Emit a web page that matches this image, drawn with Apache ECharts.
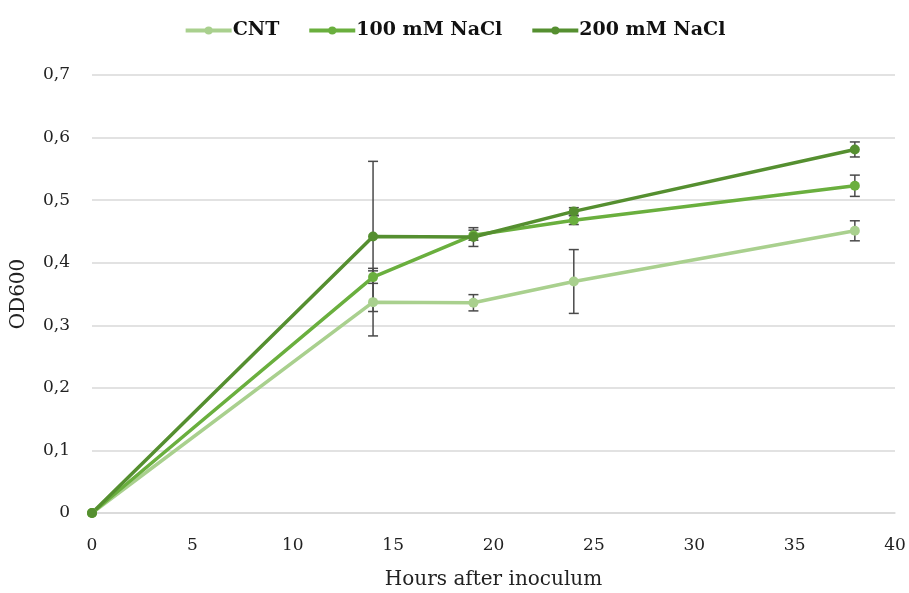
<!DOCTYPE html>
<html>
<head>
<meta charset="utf-8">
<script src="https://cdn.jsdelivr.net/npm/echarts@6/dist/echarts.min.js"></script>
<style>html,body{margin:0;padding:0;background:#fff;}#c{width:909px;height:593px;}</style>
</head>
<body>
<div id="c"></div>
<script>
var hours = [0, 14, 19, 24, 38];
var seriesNames = ['CNT', '100 mM NaCl', '200 mM NaCl'];
var cnt = [0, 0.337, 0.336, 0.370, 0.451];
var cntErr = [0, 0.054, 0.013, 0.051, 0.016];
var nacl100 = [0, 0.377, 0.444, 0.468, 0.523];
var nacl100Err = [0, 0.010, 0.008, 0.007, 0.017];
var nacl200 = [0, 0.442, 0.441, 0.482, 0.581];
var nacl200Err = [0, 0.120, 0.015, 0.006, 0.012];
var yTicks = ['0', '0,1', '0,2', '0,3', '0,4', '0,5', '0,6', '0,7'];

var colors = ['#a9d08e', '#6aaf3e', '#558f30'];
var font = '"DejaVu Serif", "Liberation Serif", serif';

function pairs(vals) { return hours.map(function (h, i) { return [h, vals[i]]; }); }
function errData(vals, errs) {
  return hours.map(function (h, i) { return [h, vals[i] - errs[i], vals[i] + errs[i]]; })
    .filter(function (d, i) { return errs[i] > 0; });
}
function errSeries(vals, errs) {
  return {
    type: 'custom',
    data: errData(vals, errs),
    z: 1,
    silent: true,
    renderItem: function (params, api) {
      var x = api.value(0);
      var lo = api.coord([x, api.value(1)]);
      var hi = api.coord([x, api.value(2)]);
      var w = 5;
      var st = { stroke: '#4a4a4a', lineWidth: 1.5 };
      return {
        type: 'group',
        children: [
          { type: 'line', shape: { x1: hi[0], y1: hi[1], x2: lo[0], y2: lo[1] }, style: st },
          { type: 'line', shape: { x1: hi[0] - w, y1: hi[1], x2: hi[0] + w, y2: hi[1] }, style: st },
          { type: 'line', shape: { x1: lo[0] - w, y1: lo[1], x2: lo[0] + w, y2: lo[1] }, style: st }
        ]
      };
    }
  };
}
function lineSeries(name, vals, color) {
  return {
    name: name, type: 'line', data: pairs(vals), z: 3,
    symbol: 'circle', symbolSize: 10,
    lineStyle: { width: 3.5, color: color },
    itemStyle: { color: color },
    emphasis: { disabled: true }
  };
}

var chart = echarts.init(document.getElementById('c'));
chart.setOption({
  animation: false,
  color: colors,
  legend: {
    top: 16, left: 'center',
    itemWidth: 46, itemHeight: 10, itemGap: 28,
    data: seriesNames,
    lineStyle: { width: 4 },
    textStyle: { fontFamily: font, fontSize: 19, fontWeight: 'bold', color: '#111', padding: [0, 0, 0, -4] }
  },
  grid: { left: 92, right: 14, top: 75, bottom: 80, outerBoundsMode: 'none' },
  xAxis: {
    type: 'value', min: 0, max: 40, interval: 5,
    name: 'Hours after inoculum', nameLocation: 'middle', nameGap: 57,
    nameTextStyle: { fontFamily: font, fontSize: 20, color: '#222' },
    axisLine: { show: true, lineStyle: { color: '#d9d9d9', width: 1.5 } },
    axisTick: { show: false },
    axisLabel: { fontFamily: font, fontSize: 17, color: '#222', margin: 24 },
    splitLine: { show: false }
  },
  yAxis: {
    type: 'value', min: 0, max: 0.7, interval: 0.1,
    name: 'OD600', nameLocation: 'middle', nameGap: 63, nameRotate: 90,
    nameTextStyle: { fontFamily: font, fontSize: 20, color: '#222' },
    axisLine: { show: false },
    axisTick: { show: false },
    axisLabel: {
      fontFamily: font, fontSize: 17, color: '#222', margin: 22,
      formatter: function (v) { return yTicks[Math.round(v * 10)]; }
    },
    splitLine: { lineStyle: { color: '#d9d9d9', width: 1.5 } }
  },
  series: [
    lineSeries(seriesNames[0], cnt, colors[0]),
    lineSeries(seriesNames[1], nacl100, colors[1]),
    lineSeries(seriesNames[2], nacl200, colors[2]),
    errSeries(cnt, cntErr),
    errSeries(nacl100, nacl100Err),
    errSeries(nacl200, nacl200Err)
  ]
});
</script>
</body>
</html>
